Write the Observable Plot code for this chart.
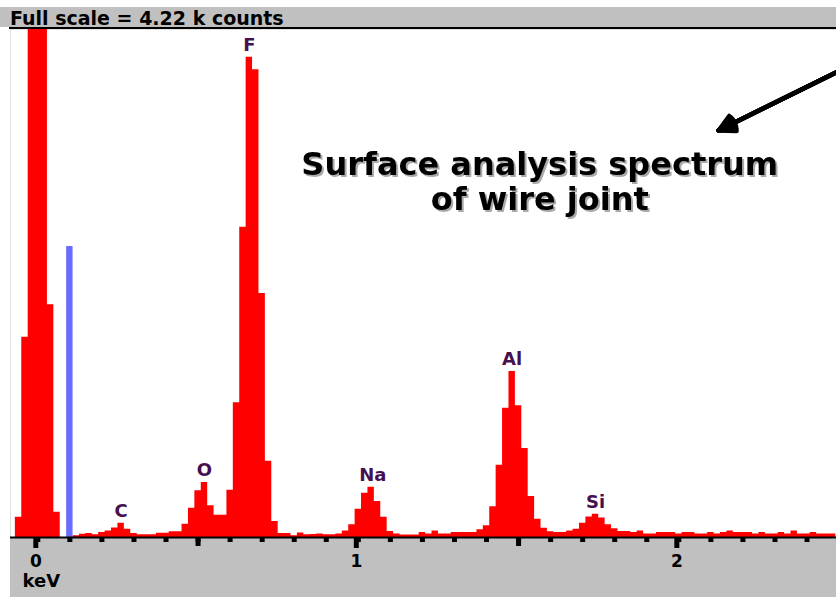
<!DOCTYPE html>
<html>
<head>
<meta charset="utf-8">
<script src="https://cdn.jsdelivr.net/npm/d3@7"></script>
<script src="https://cdn.jsdelivr.net/npm/@observablehq/plot@0.6"></script>
<style>
  body { margin: 0; background: #ffffff; }
  #wrap { position: relative; width: 836px; height: 597px; overflow: hidden; font-family: "DejaVu Sans", sans-serif; }
  #hdrbar { position: absolute; left: 0; top: 7px; width: 836px; height: 20px; background: #c0c0c0; }
  #title { position: absolute; left: 10px; top: 9px; font-weight: bold; font-size: 19px; line-height: 19px; color: #000; white-space: nowrap; }
  #hdrline { position: absolute; left: 9px; top: 27px; width: 827px; height: 2px; background: #000; }
  #chart { position: absolute; left: 10px; top: 29px; }
</style>
</head>
<body>
<div id="wrap">
  <div id="hdrbar"></div>
  <div id="title"></div>
  <div id="hdrline"></div>
  <div id="chart"></div>
</div>
<script>
// ---- data ----
const fullScaleK = 4.22;            // full scale, thousands of counts
const binStart = -0.08;             // keV, centre of first channel
const binWidth = 0.02;              // keV per channel
// counts per channel, channels centred at -0.08, -0.06, ... 2.48 keV
const counts = [
  0, 169, 1664, 6200, 9800, 7100, 1933, 210, 0, 0,          // -0.08 .. 0.10
  14, 28, 33, 22, 42, 55, 78, 119, 69, 33,                 // 0.12 .. 0.30
  22, 22, 22, 36, 36, 47, 47, 111, 244, 388,               // 0.32 .. 0.50
  457, 263, 185, 185, 393, 1120, 2578, 3990, 3885, 2027,   // 0.52 .. 0.70
  634, 133, 33, 33, 14, 37, 22, 25, 30, 22,                // 0.72 .. 0.90
  22, 30, 55, 105, 235, 368, 418, 299, 169, 50,            // 0.92 .. 1.10
  30, 20, 20, 20, 42, 30, 53, 30, 30, 42,                  // 1.12 .. 1.30
  42, 42, 42, 64, 97, 255, 601, 1074, 1379, 1094,          // 1.32 .. 1.50
  739, 341, 152, 77, 47, 42, 42, 55, 69, 119,              // 1.52 .. 1.70
  170, 194, 161, 105, 72, 50, 50, 42, 55, 30,              // 1.72 .. 1.90
  30, 42, 42, 42, 30, 42, 42, 30, 30, 42,                  // 1.92 .. 2.10
  30, 42, 55, 42, 42, 42, 30, 42, 30, 30,                  // 2.12 .. 2.30
  42, 30, 55, 30, 30, 42, 30, 30, 30                       // 2.32 .. 2.48
];
const markerEnergy = [0.10];
const markerCounts = [2417];

const elements      = ["C", "O", "F", "Na", "Al", "Si"];
const elementEnergy = [0.26, 0.52, 0.66, 1.045, 1.48, 1.74];
const elementPeak   = [119, 457, 3990, 418, 1379, 194];

const majorTicks = [0, 1, 2];
const majorLabels = ["0", "1", "2"];
const halfTicks = [0.5, 1.5];
const minorTicks = [0, 0.1, 0.2, 0.3, 0.4, 0.5, 0.6, 0.7, 0.8, 0.9, 1.0, 1.1, 1.2,
                    1.3, 1.4, 1.5, 1.6, 1.7, 1.8, 1.9, 2.0, 2.1, 2.2, 2.3, 2.4];
const axisUnit = "keV";

const noteText   = ["Surface analysis spectrum\nof wire joint"];
const noteEnergy = [1.566];
const noteCounts = [2960];
const arrowFrom  = [2.492, 3865];
const arrowTo    = [2.124, 3381];

// ---- build tables ----
document.getElementById("title").textContent = `Full scale = ${fullScaleK} k counts`;

const spectrum = counts.map((c, i) => ({ e0: binStart + i * binWidth - binWidth / 2, c }));
spectrum.push({ e0: binStart + counts.length * binWidth - binWidth / 2, c: counts[counts.length - 1] });
const markers = markerEnergy.map((e, i) => ({ e, c: markerCounts[i] }));
const labels = elements.map((name, i) => ({ name, e: elementEnergy[i], c: elementPeak[i] }));
const notes = noteText.map((t, i) => ({ t, e: noteEnergy[i], c: noteCounts[i] }));
const arrows = [{ xa: arrowFrom[0], ya: arrowFrom[1], xb: arrowTo[0], yb: arrowTo[1] }];
const tickText = new Map(majorTicks.map((t, i) => [t, majorLabels[i]]));

const font = "DejaVu Sans";
const chart = Plot.plot({
  width: 826,
  height: 568,
  marginTop: 0,
  marginRight: 0,
  marginBottom: 60,
  marginLeft: 0,
  style: { background: "#c0c0c0", color: "#000", fontFamily: font, overflow: "hidden" },
  x: { domain: [-0.0852, 2.4919] },
  y: { domain: [0, fullScaleK * 1000], clamp: true, axis: null },
  marks: [
    Plot.frame({ fill: "#ffffff", stroke: null }),
    Plot.areaY(spectrum, { x: "e0", y: "c", curve: "step-after", fill: "#ff0000" }),
    Plot.rectY(markers, { x1: d => d.e - binWidth / 2, x2: d => d.e + binWidth / 2, y: "c", fill: "#6b6bff" }),
    Plot.ruleY([0], { stroke: "#000", strokeWidth: 2 }),
    Plot.axisX({ ticks: minorTicks, tickSize: 5, strokeWidth: 5, tickFormat: () => "", label: null }),
    Plot.axisX({ ticks: halfTicks, tickSize: 9, strokeWidth: 5, tickFormat: () => "", label: null }),
    Plot.axisX({ ticks: majorTicks, tickSize: 11, tickPadding: 6, strokeWidth: 5, tickFormat: t => tickText.get(t),
                 label: null, fontSize: 17, fontWeight: "bold", dx: -2 }),
    Plot.text([axisUnit], { frameAnchor: "bottom-left", text: d => d, textAnchor: "start", dx: 12, dy: 49,
                            fontSize: 18, fontWeight: "bold", fill: "#000" }),
    Plot.text(labels, { x: "e", y: "c", text: "name", dy: -12, fontSize: 18, fontWeight: "bold", fill: "#46104f" }),
    Plot.text(notes, { x: "e", y: "c", text: "t", lineHeight: 1.1, fontSize: 32, fontWeight: "bold", fill: "#000" }),
    ...[55, 40, 25, 10].map(a => Plot.arrow(arrows, { x1: "xa", y1: "ya", x2: "xb", y2: "yb", stroke: "#000",
                                                    strokeWidth: 4.5, headLength: 6, headAngle: a }))
  ]
});
// soft grey drop shadow on the annotation, as in the reference
for (const t of chart.querySelectorAll("text")) {
  if (t.textContent.includes("Surface")) t.style.filter = "drop-shadow(2px 2px 0px #aaaaaa)";
}
document.getElementById("chart").appendChild(chart);
</script>
</body>
</html>
